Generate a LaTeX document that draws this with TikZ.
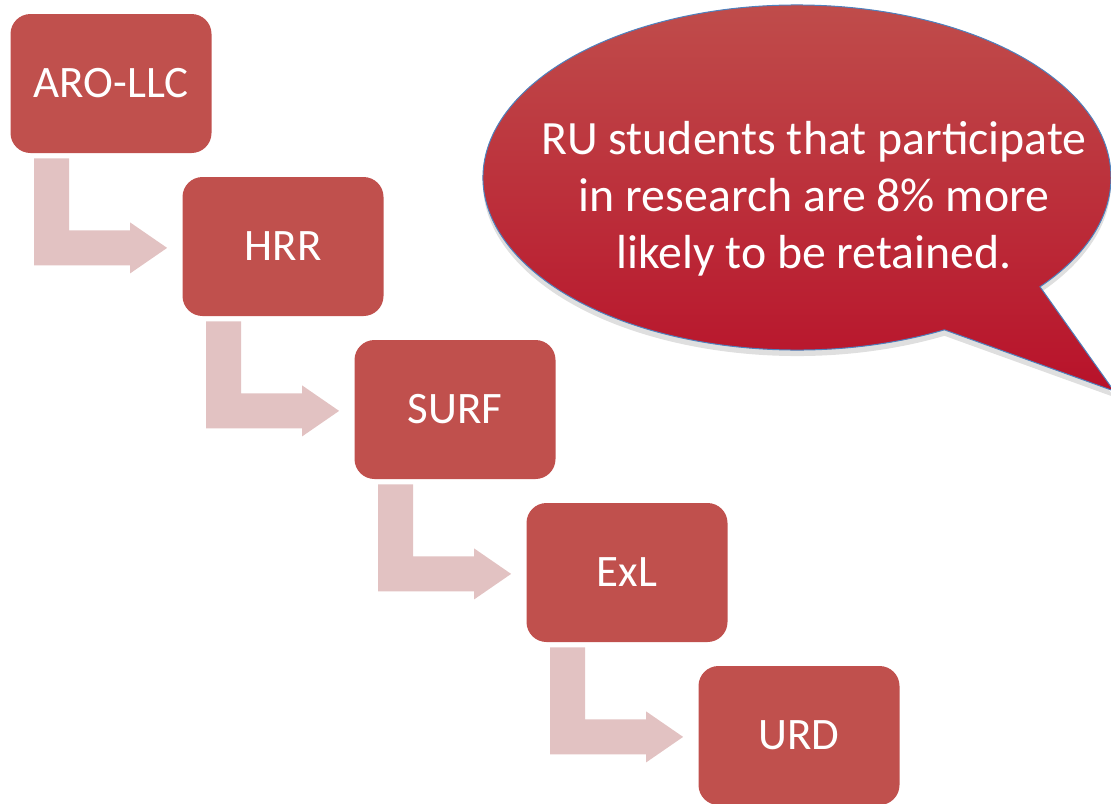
\documentclass[tikz,border=0pt]{standalone}
\usepackage{fontspec}
\setmainfont{Carlito}
\usetikzlibrary{calc, shadows}

\definecolor{boxred}{RGB}{192,80,77}
\definecolor{arrowpink}{RGB}{226,194,194}
\definecolor{deepred}{RGB}{184,18,42}
\definecolor{edgeblue}{RGB}{79,129,189}

\tikzset{
  stepbox/.style={rectangle, rounded corners=10pt, fill=boxred, text=white,
    minimum width=100.5pt, minimum height=69.5pt, inner sep=0pt,
    font=\fontsize{22.5}{27}\selectfont},
  bendarrow/.style={fill=arrowpink},
  bubble/.style={top color=boxred, bottom color=deepred, draw=edgeblue, line width=0.5pt,
    drop shadow={shadow xshift=0pt, shadow yshift=-3pt, opacity=0.25}}
}

\begin{document}
\begin{tikzpicture}[x=0.5pt, y=-0.5pt]
\useasboundingbox (0,0) rectangle (1111,803);
\clip (0,0) rectangle (1111,803);

% Staircase of boxes
\foreach \name [count=\i from 0] in {ARO-LLC, HRR, SURF, ExL, URD}
  \node[stepbox] (b\i) at (111+172*\i, 83.5+163*\i) {\name};

% Bent arrows between the boxes
\foreach \i in {0,...,3}
  \fill[bendarrow] ([shift={(24,5)}]b\i.south west) -- ++(35,0) -- ++(0,72) -- ++(61,0)
    -- ++(0,-8) -- ++(37,25.5) -- ++(-37,25.5) -- ++(0,-8) -- ++(-96,0) -- cycle;

% Speech bubble
\coordinate (mid) at (797,177.5);
\path[bubble] ($(mid)+(62:314 and 172.5)$)
  arc[start angle=62, end angle=399.3, x radius=314, y radius=172.5]
  -- (1114,391) -- cycle;
\node[text=white, align=center, font=\fontsize{23.9}{28.6}\selectfont] (fact) at (814,199)
  {RU students that participate\\in research are 8\% more\\likely to be retained.};
\end{tikzpicture}
\end{document}
